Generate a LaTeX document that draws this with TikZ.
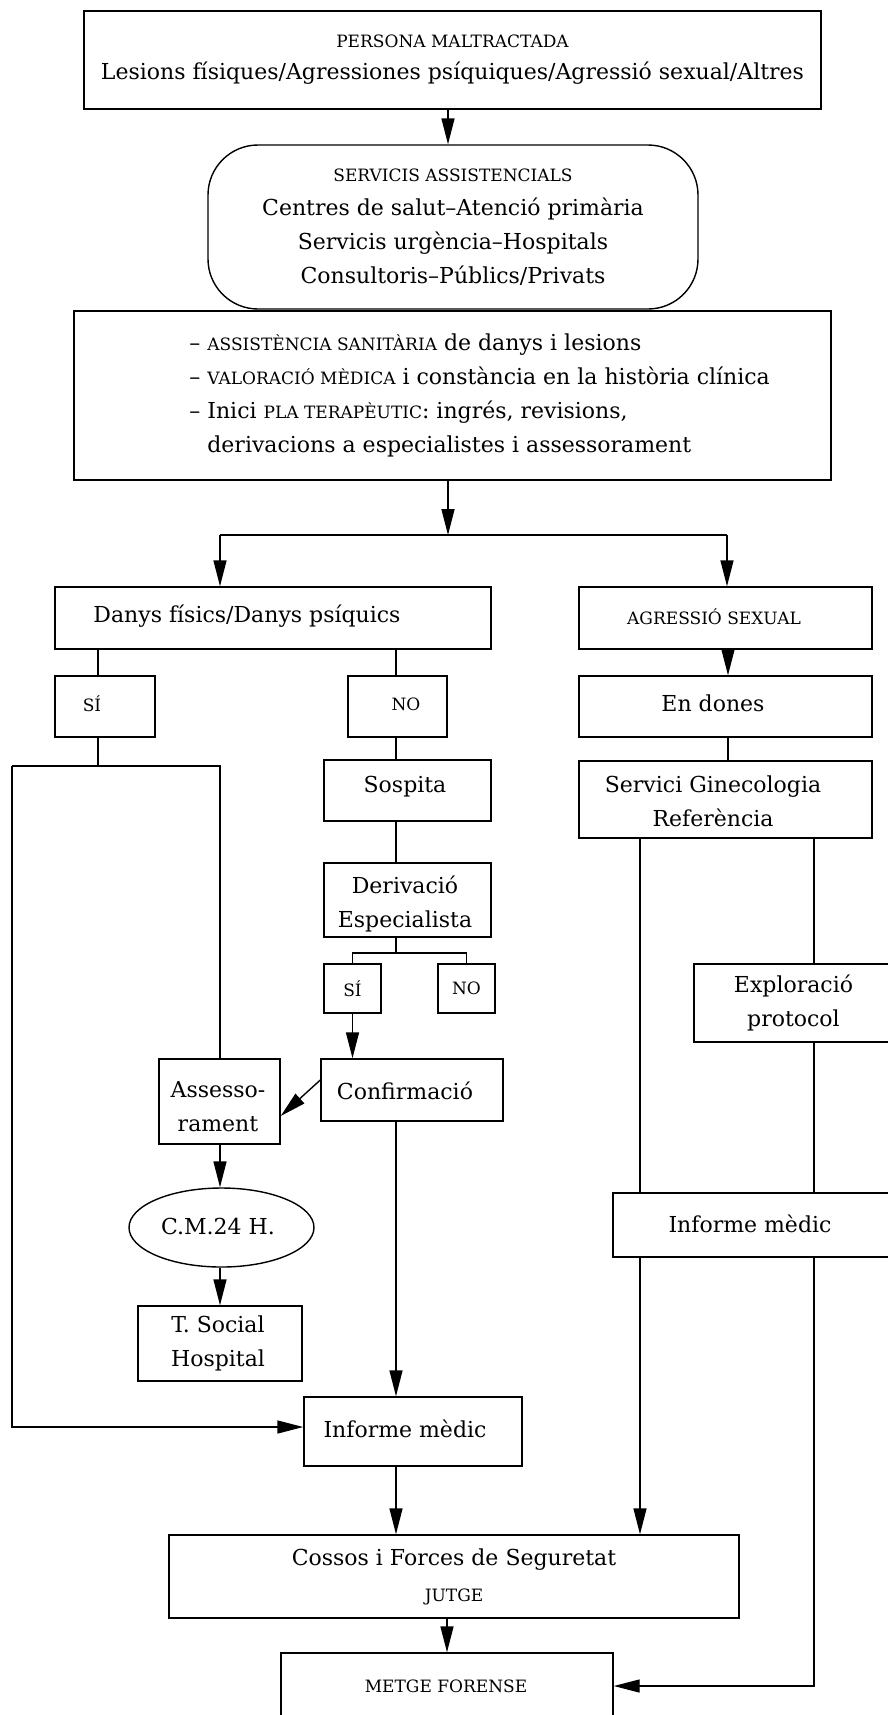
\documentclass[tikz,border=0pt]{standalone}
\usepackage{fontspec}
\setmainfont{DejaVu Serif}
\usetikzlibrary{arrows.meta,shapes.geometric}
\newcommand\smc[1]{{\fontsize{8.5}{17}\selectfont #1}}
\begin{document}
\begin{tikzpicture}[x=0.5pt,y=-0.5pt,
  every node/.style={font=\fontsize{11}{17}\selectfont},
  box/.style={draw, line width=0.7pt, inner sep=0pt, align=center},
  txt/.style={inner sep=0pt, align=center},
  line/.style={line width=0.7pt},
  arr/.style={line width=0.7pt, -{Triangle[length=13pt,width=6.5pt]}},
]
\useasboundingbox (0,0) rectangle (888,1715);
\clip (0,0) rectangle (888,1715);

% boxes
\node[box, minimum width=368.5pt, minimum height=49pt] (top) at (452.5,60)
  {\smc{PERSONA MALTRACTADA}\\[-1pt]Lesions físiques/Agressiones psíquiques/Agressió sexual/Altres};
\node[box, rounded corners=25pt, minimum width=245pt, minimum height=82pt] (serv) at (453,227)
  {\smc{SERVICIS ASSISTENCIALS}\\Centres de salut–Atenció primària\\Servicis urgència–Hospitals\\Consultoris–Públics/Privats};
\node[box, minimum width=378.5pt, minimum height=84.5pt] (asist) at (452.5,395.5) {};
\node[txt, anchor=west, align=left] (asistt) at (189,395.5)
  {– \smc{ASSISTÈNCIA SANITÀRIA} de danys i lesions\\
   – \smc{VALORACIÓ MÈDICA} i constància en la història clínica\\
   – Inici \smc{PLA TERAPÈUTIC}: ingrés, revisions,\\
   \phantom{– }derivacions a especialistes i assessorament};

\node[box, minimum width=218pt, minimum height=31pt] (danys) at (273,618) {};
\node[txt] (danyst) at (247,616) {Danys físics/Danys psíquics};
\node[box, minimum width=146.5pt, minimum height=31pt] (agr) at (725.5,618) {};
\node[txt] (agrt) at (714,617) {\smc{AGRESSIÓ SEXUAL}};

\node[box, minimum width=50pt, minimum height=30.5pt] (si1) at (105,706.5) {};
\node[txt] (si1t) at (92,704) {\smc{SÍ}};
\node[box, minimum width=49.5pt, minimum height=30.5pt] (no1) at (397.5,706.5) {};
\node[txt] (no1t) at (406,704) {\smc{NO}};
\node[box, minimum width=146.5pt, minimum height=30.5pt] (dones) at (725.5,706.5) {};
\node[txt] (donest) at (713,703) {En dones};
\node[box, minimum width=146.5pt, minimum height=38.5pt] (gine) at (725.5,799.5) {};
\node[txt] (ginet) at (713,801.5) {Servici Ginecologia\\Referència};
\node[box, minimum width=83.5pt, minimum height=30.5pt] (sosp) at (407.5,790.5) {};
\node[txt] (sospt) at (405,787) {Sospita};
\node[box, minimum width=83.5pt, minimum height=37pt] (deriv) at (407.5,900) {};
\node[txt] (derivt) at (405,903.5) {Derivació\\Especialista};
\node[box, minimum width=28.5pt, minimum height=24.5pt] (si2) at (352.5,988.5) {\smc{SÍ}};
\node[box, minimum width=28.5pt, minimum height=24.5pt] (no2) at (466.5,988.5) {\smc{NO}};
\node[box, minimum width=91pt, minimum height=31pt] (conf) at (412,1090) {};
\node[txt] (conft) at (405,1091) {Confirmació};
\node[box, minimum width=60.5pt, minimum height=42.5pt] (asse) at (219.5,1101.5) {};
\node[txt] (asset) at (218,1107) {Assesso-\\rament};
\node[draw, ellipse, line width=0.7pt, inner sep=0pt, minimum width=92.5pt, minimum height=39.5pt] (ell) at (221.5,1227.5) {};
\node[txt] (ellt) at (218,1226) {C.M.24 H.};
\node[box, minimum width=82pt, minimum height=37.5pt] (tsoc) at (220,1343.5) {};
\node[txt] (tsoct) at (218,1343.5) {T. Social\\Hospital};
\node[box, minimum width=109pt, minimum height=34.5pt] (inf1) at (413,1431.5) {};
\node[txt] (inf1t) at (405,1429) {Informe mèdic};
\node[box, minimum width=99.5pt, minimum height=39pt] (expl) at (793.5,1003) {Exploració\\protocol};
\node[box, minimum width=140pt, minimum height=32pt] (inf2) at (753,1225) {};
\node[txt] (inf2t) at (750,1224) {Informe mèdic};
\node[box, minimum width=285pt, minimum height=41.5pt] (coss) at (454,1576.5)
  {Cossos i Forces de Seguretat\\[1pt]\smc{JUTGE}};
\node[box, minimum width=166pt, minimum height=33.5pt] (metge) at (447,1686.5) {};
\node[txt] (metget) at (446,1686) {\smc{METGE FORENSE}};

% helper coordinates
\coordinate (t0) at (448,0);
\coordinate (jl) at (220,535);
\coordinate (jr) at (727,535);
\coordinate (a1) at (98,0);
\coordinate (a2) at (396,0);
\coordinate (a3) at (728,0);
\coordinate (a4) at (447,0);
\coordinate (d1) at (396,953);
\coordinate (L1) at (12,766);
\coordinate (L2) at (220,766);
\coordinate (L3) at (12,1427);
\coordinate (r1) at (640,0);
\coordinate (r2) at (814,0);
\coordinate (r3) at (814,1686);

% connectors
\draw[arr] (top.south -| t0) -- (serv.north -| t0);
\draw[arr] (asist.south -| t0) -- (t0 |- jl);
\draw[line] (jl) -- (jr);
\draw[arr] (jl) -- (jl |- danys.north);
\draw[arr] (jr) -- (jr |- agr.north);

\draw[line] (danys.south -| a1) -- (si1.north -| a1);
\draw[line] (danys.south -| a2) -- (no1.north -| a2);
\draw[arr] (agr.south -| a3) -- (dones.north -| a3);
\draw[line] (dones.south -| a3) -- (gine.north -| a3);

\draw[line] (no1.south -| a2) -- (sosp.north -| a2);
\draw[line] (sosp.south -| a2) -- (deriv.north -| a2);
\draw[line] (deriv.south -| d1) -- (d1);
\draw[line] (si2.north) -- (si2.north |- d1) -- (no2.north |- d1) -- (no2.north);
\draw[arr] (si2.south) -- (si2.south |- conf.north);
\draw[arr] ([yshift=5pt]conf.west) -- ([yshift=-7.25pt]asse.east);

\draw[line] (si1.south -| a1) -- (a1 |- L1);
\draw[line] (L1) -- (L2) -- (L2 |- asse.north);
\draw[arr] (L1) -- (L3) -- (L3 -| inf1.west);
\draw[arr] (asse.south -| L2) -- (ell.north -| L2);
\draw[arr] (ell.south -| L2) -- (tsoc.north -| L2);

\draw[arr] (conf.south -| a2) -- (inf1.north -| a2);
\draw[arr] (inf1.south -| a2) -- (coss.north -| a2);
\draw[arr] (coss.south -| a4) -- (metge.north -| a4);

\draw[line] (gine.south -| r1) -- (inf2.north -| r1);
\draw[arr] (inf2.south -| r1) -- (coss.north -| r1);
\draw[line] (gine.south -| r2) -- (expl.north -| r2);
\draw[line] (expl.south -| r2) -- (inf2.north -| r2);
\draw[arr] (inf2.south -| r2) -- (r3) -- (r3 -| metge.east);
\end{tikzpicture}
\end{document}
